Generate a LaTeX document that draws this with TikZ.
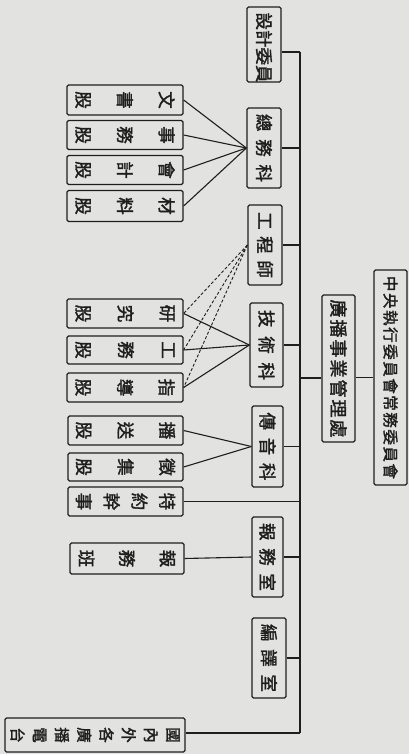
\documentclass[tikz,border=0pt]{standalone}
\usepackage{fontspec}
\newfontfamily\cjk{Noto Sans CJK TC}[FakeBold=1.8]
\definecolor{paper}{RGB}{226,226,224}
\definecolor{ink}{RGB}{30,30,30}
\newcommand{\hsp}[2]{\hbox to #1{#2}}
\newcommand{\vsp}[2]{\vbox to #1{#2}}
\tikzset{
  box/.style={draw=ink, line width=1.3pt, rounded corners=1.5pt, rotate=-90, inner sep=0pt, text=ink},
  f16/.style={font=\cjk\fontsize{15.5pt}{15.5pt}\selectfont},
  f17/.style={font=\cjk\fontsize{17.5pt}{17.5pt}\selectfont},
  f18/.style={font=\cjk\fontsize{18pt}{18pt}\selectfont},
  conn/.style={draw=ink, line width=1.1pt},
  dconn/.style={draw=ink, line width=0.9pt, dashed, dash pattern=on 3pt off 2pt}
}
\begin{document}
\begin{tikzpicture}[x=1pt,y=-1pt]
\fill[paper] (0,0) rectangle (409,754);
\useasboundingbox (0,0) rectangle (409,754);
% top level
\node[box,f16,minimum width=215pt,minimum height=33pt] (root) at (390.5,377.5)
  {\hsp{203pt}{中\hfil 央\hfil 執\hfil 行\hfil 委\hfil 員\hfil 會\hfil 常\hfil 務\hfil 委\hfil 員\hfil 會}};
\node[box,f18,minimum width=147pt,minimum height=33pt] (guangbo) at (338.5,368.5)
  {\hsp{138pt}{廣\hfil 播\hfil 事\hfil 業\hfil 管\hfil 理\hfil 處}};
% main column
\node[box,f17,minimum width=75pt,minimum height=34pt] (sheji) at (264,44.5)
  {\hsp{64pt}{設\hfil 計\hfil 委\hfil 員}};
\node[box,f17,minimum width=80pt,minimum height=34pt] (zongwu) at (264,148)
  {\hsp{68pt}{總\hfil 務\hfil 科}};
\node[box,f17,minimum width=80pt,minimum height=34pt] (gongcheng) at (265,245)
  {\hsp{66pt}{工\hfil 程\hfil 師}};
\node[box,f17,minimum width=84pt,minimum height=33pt] (jishu) at (266.5,345)
  {\hsp{70pt}{技\hfil 術\hfil 科}};
\node[box,f17,minimum width=81pt,minimum height=31pt] (chuanyin) at (267.5,446.5)
  {\hsp{68pt}{傳\hfil 音\hfil 科}};
\node[box,f17,minimum width=80pt,minimum height=31pt] (baowu) at (267.5,557)
  {\hsp{68pt}{報\hfil 務\hfil 室}};
\node[box,f17,minimum width=80pt,minimum height=34pt] (bianyi) at (269,658)
  {\hsp{68pt}{編\hfil 譯\hfil 室}};
\node[box,f16,minimum width=34pt,minimum height=180pt] (stations) at (95,735)
  {\vsp{168pt}{\hbox{國}\vfil\hbox{內}\vfil\hbox{外}\vfil\hbox{各}\vfil\hbox{廣}\vfil\hbox{播}\vfil\hbox{電}\vfil\hbox{台}}};
% sections
\node[box,f17,minimum width=30pt,minimum height=116pt] (wenshu) at (125,100)
  {\vsp{98pt}{\hbox{文}\vfil\hbox{書}\vfil\hbox{股}}};
\node[box,f17,minimum width=29pt,minimum height=116pt] (shiwu) at (125,135)
  {\vsp{98pt}{\hbox{事}\vfil\hbox{務}\vfil\hbox{股}}};
\node[box,f17,minimum width=29pt,minimum height=116pt] (kuaiji) at (125,170)
  {\vsp{98pt}{\hbox{會}\vfil\hbox{計}\vfil\hbox{股}}};
\node[box,f17,minimum width=31pt,minimum height=116pt] (cailiao) at (125,206)
  {\vsp{98pt}{\hbox{材}\vfil\hbox{料}\vfil\hbox{股}}};
\node[box,f17,minimum width=29pt,minimum height=116pt] (yanjiu) at (125,313.5)
  {\vsp{98pt}{\hbox{研}\vfil\hbox{究}\vfil\hbox{股}}};
\node[box,f17,minimum width=28pt,minimum height=116pt] (gongwu) at (125,350)
  {\vsp{98pt}{\hbox{工}\vfil\hbox{務}\vfil\hbox{股}}};
\node[box,f17,minimum width=29pt,minimum height=116pt] (zhidao) at (125,387.5)
  {\vsp{98pt}{\hbox{指}\vfil\hbox{導}\vfil\hbox{股}}};
\node[box,f17,minimum width=29pt,minimum height=115pt] (bosong) at (125.5,430.5)
  {\vsp{98pt}{\hbox{播}\vfil\hbox{送}\vfil\hbox{股}}};
\node[box,f17,minimum width=28pt,minimum height=115pt] (zhengji) at (125.5,467)
  {\vsp{98pt}{\hbox{徵}\vfil\hbox{集}\vfil\hbox{股}}};
\node[box,f17,minimum width=29pt,minimum height=115pt] (teyue) at (125.5,501.5)
  {\vsp{98pt}{\hbox{特}\vfil\hbox{約}\vfil\hbox{幹}\vfil\hbox{事}}};
\node[box,f17,minimum width=31pt,minimum height=114pt] (baowuban) at (127,558.5)
  {\vsp{96pt}{\hbox{報}\vfil\hbox{務}\vfil\hbox{班}}};
% trunk
\coordinate (ttop) at (300,52);
\coordinate (tbot) at (300,733);
\coordinate (tmid) at (300,378);
\draw[conn] (ttop) -- (tbot);
\draw[conn] (root.south) -- (root.south -| guangbo.north);
\draw[conn] (guangbo.south |- tmid) -- (tmid);
\draw[conn] (sheji.north |- ttop) -- (ttop);
\foreach \n in {zongwu,gongcheng,jishu,chuanyin,baowu,bianyi,teyue}
  \draw[conn] (\n.north) -- (\n.north -| ttop);
\draw[conn] (tbot) -- (stations.north |- tbot);
% fans
\foreach \n in {wenshu,shiwu,kuaiji,cailiao}
  \draw[conn] (zongwu.south) -- (\n.north);
\foreach \n in {yanjiu,gongwu,zhidao}{
  \draw[conn] (jishu.south) -- (\n.north);
  \draw[dconn] (gongcheng.south) -- (\n.north);
}
\foreach \n in {bosong,zhengji}
  \draw[conn] (chuanyin.south) -- (\n.north);
\draw[conn] (baowu.south) -- (baowuban.north);
\end{tikzpicture}
\end{document}
